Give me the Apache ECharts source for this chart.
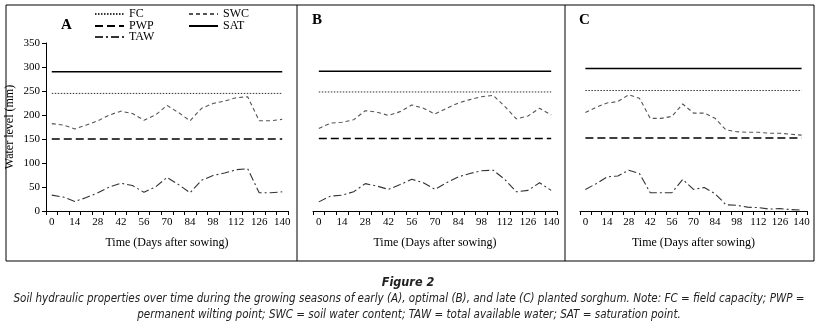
<!DOCTYPE html>
<html>
<head>
<meta charset="utf-8">
<script src="https://cdn.jsdelivr.net/npm/echarts@6/dist/echarts.min.js"></script>
<style>
  html, body { margin: 0; padding: 0; background: #fff; }
  #chart { width: 817px; height: 335px; }
</style>
</head>
<body>
<div id="chart"></div>
<script>
// weekly sampling days (category axis, labels every 14 days)
const days = ['0', '7', '14', '21', '28', '35', '42', '49', '56', '63', '70',
  '77', '84', '91', '98', '105', '112', '119', '126', '133', '140']

// A - early planting
const swcA = [182, 179, 171, 179, 188, 200, 208, 203, 189, 200, 220, 205, 188, 214, 224, 229, 236, 238, 188, 188, 191]
const tawA = [33, 29, 20, 28, 38, 50, 58, 53, 39, 50, 70, 55, 38, 64, 74, 79, 86, 88, 38, 38, 40]
// B - optimal planting
const swcB = [172, 183, 185, 190, 209, 206, 199, 207, 221, 214, 202, 214, 225, 232, 238, 241, 218, 192, 198, 214, 200]
const tawB = [19, 31, 33, 40, 57, 52, 45, 55, 66, 59, 45, 59, 71, 78, 84, 85, 66, 40, 43, 59, 43]
// C - late planting
const swcC = [205, 216, 225, 228, 242, 235, 193, 193, 197, 223, 204, 204, 193, 169, 165, 164, 164, 162, 162, 160, 158]
const tawC = [45, 57, 71, 73, 85, 78, 38, 38, 38, 66, 45, 49, 36, 13, 12, 8, 7, 4, 5, 3, 2]

// constant levels per panel: [SAT, FC, PWP]
const levelsA = [290, 245, 150]
const levelsB = [291, 248, 151]
const levelsC = [297, 251, 152]

const yTicks = { min: 0, max: 350, interval: 50 }

const serif = 'Liberation Serif'
const gridTop = 43
const gridBottom = 124
const panels = [
  { left: 46, width: 242, swc: swcA, taw: tawA, lv: levelsA },
  { left: 313, width: 244, swc: swcB, taw: tawB, lv: levelsB },
  { left: 580, width: 227, swc: swcC, taw: tawC, lv: levelsC }
]

const styles = {
  SAT: { color: '#000', width: 1.4, type: 'solid' },
  FC: { color: '#333', width: 1, type: [1.5, 1.5] },
  SWC: { color: '#555', width: 1.1, type: [4, 3] },
  PWP: { color: '#000', width: 1.4, type: [8, 4] },
  TAW: { color: '#333', width: 1.1, type: [8, 3, 2, 3] }
}

// horizontal level drawn between the first and last sampling day
function flat(value) {
  return [[days[0], value], [days[days.length - 1], value]]
}

const grids = []
const xAxes = []
const yAxes = []
const series = []

panels.forEach((p, i) => {
  grids.push({ left: p.left, width: p.width, top: gridTop, bottom: gridBottom })
  xAxes.push({
    type: 'category',
    gridIndex: i,
    data: days,
    boundaryGap: true,
    name: 'Time (Days after sowing)',
    nameLocation: 'middle',
    nameGap: 26,
    nameTextStyle: { fontFamily: serif, fontSize: 12, color: '#000' },
    axisLine: { lineStyle: { color: '#000', width: 1 } },
    axisTick: { show: true, interval: 0, length: 4, lineStyle: { color: '#000' } },
    axisLabel: { interval: 1, fontFamily: serif, fontSize: 11, color: '#000', margin: 6 },
    splitLine: { show: false }
  })
  yAxes.push({
    type: 'value',
    gridIndex: i,
    min: yTicks.min,
    max: yTicks.max,
    interval: yTicks.interval,
    show: i === 0,
    name: i === 0 ? 'Water level (mm)' : '',
    nameLocation: 'middle',
    nameGap: 30,
    nameTextStyle: { fontFamily: serif, fontSize: 12, color: '#000' },
    axisLine: { show: true, lineStyle: { color: '#000', width: 1 } },
    axisTick: { show: true, length: 4, lineStyle: { color: '#000' } },
    axisLabel: { fontFamily: serif, fontSize: 11, color: '#000', margin: 6 },
    splitLine: { show: false }
  })

  const add = (name, data) => {
    series.push({
      name: name,
      type: 'line',
      xAxisIndex: i,
      yAxisIndex: i,
      data: data,
      symbol: 'none',
      silent: true,
      lineStyle: styles[name],
      itemStyle: { color: styles[name].color }
    })
  }
  add('SAT', flat(p.lv[0]))
  add('FC', flat(p.lv[1]))
  add('SWC', p.swc)
  add('PWP', flat(p.lv[2]))
  add('TAW', p.taw)
})

function legendAt(name, left, top) {
  return {
    data: [name],
    left: left,
    top: top,
    padding: 0,
    itemWidth: 29,
    itemHeight: 12,
    selectedMode: false,
    // hide the marker dot, keep the dashed line sample
    itemStyle: { color: 'transparent', borderColor: 'transparent', borderWidth: 0 },
    textStyle: { fontFamily: serif, fontSize: 12, color: '#000' }
  }
}

const legends = [
  legendAt('FC', 94, 8),
  legendAt('SWC', 188, 8),
  legendAt('PWP', 94, 20),
  legendAt('SAT', 188, 20),
  legendAt('TAW', 94, 31)
]

const caption1 = 'Soil hydraulic properties over time during the growing seasons of early (A), optimal (B), and late (C) planted sorghum. Note: FC = field capacity; PWP ='
const caption2 = 'permanent wilting point; SWC = soil water content; TAW = total available water; SAT = saturation point.'
const captionFont = 'italic 12px "Liberation Sans Narrow", "DejaVu Sans Condensed", sans-serif'

// squeeze caption horizontally to the width it has in the figure
const ctx = document.createElement('canvas').getContext('2d')
ctx.font = captionFont
const squeeze = 791 / ctx.measureText(caption1).width

const chart = echarts.init(document.getElementById('chart'), null, { renderer: 'canvas' })
chart.setOption({
  animation: false,
  backgroundColor: '#fff',
  grid: grids,
  xAxis: xAxes,
  yAxis: yAxes,
  legend: legends,
  series: series,
  graphic: [
    { type: 'rect', shape: { x: 6, y: 5, width: 808, height: 256 }, style: { fill: 'none', stroke: '#000', lineWidth: 1 }, silent: true },
    { type: 'line', shape: { x1: 297, y1: 5, x2: 297, y2: 261 }, style: { stroke: '#000', lineWidth: 1 }, silent: true },
    { type: 'line', shape: { x1: 565, y1: 5, x2: 565, y2: 261 }, style: { stroke: '#000', lineWidth: 1 }, silent: true },
    { type: 'text', left: 61, top: 18, style: { text: 'A', font: 'bold 15px "Liberation Serif"', fill: '#000' } },
    { type: 'text', left: 312, top: 13, style: { text: 'B', font: 'bold 15px "Liberation Serif"', fill: '#000' } },
    { type: 'text', left: 579, top: 13, style: { text: 'C', font: 'bold 15px "Liberation Serif"', fill: '#000' } },
    { type: 'text', x: 408, y: 283, scaleX: squeeze, style: { text: 'Figure 2', font: 'italic bold 13px "Liberation Sans Narrow", "DejaVu Sans Condensed", sans-serif', fill: '#222', align: 'center', verticalAlign: 'middle' } },
    { type: 'text', x: 409, y: 299, scaleX: squeeze, style: { text: caption1, font: captionFont, fill: '#222', align: 'center', verticalAlign: 'middle' } },
    { type: 'text', x: 409, y: 315, scaleX: squeeze, style: { text: caption2, font: captionFont, fill: '#222', align: 'center', verticalAlign: 'middle' } }
  ]
})
</script>
</body>
</html>
